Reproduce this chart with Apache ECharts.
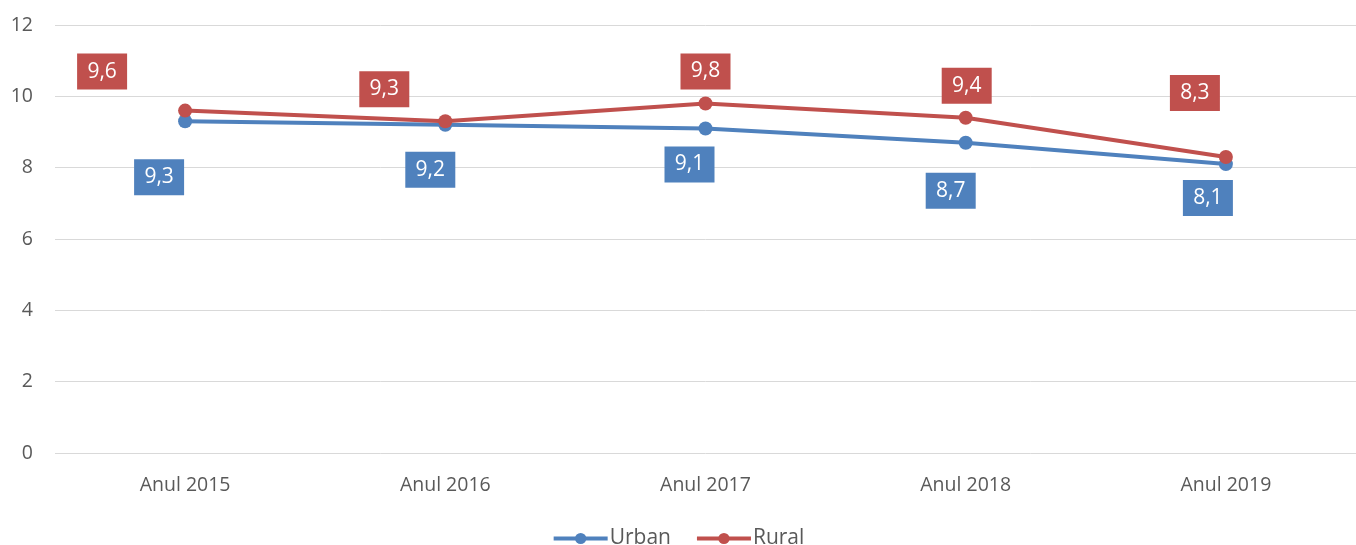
<!DOCTYPE html>
<html>
<head>
<meta charset="utf-8">
<script src="https://cdn.jsdelivr.net/npm/echarts@6/dist/echarts.min.js"></script>
<style>
html,body{margin:0;padding:0;background:#fff;}
#chart{width:1356px;height:545px;}
</style>
</head>
<body>
<div id="chart"></div>
<script>
const categories = ['Anul 2015', 'Anul 2016', 'Anul 2017', 'Anul 2018', 'Anul 2019'];
const urban = [9.3, 9.2, 9.1, 8.7, 8.1];
const rural = [9.6, 9.3, 9.8, 9.4, 8.3];
const yTicks = [0, 2, 4, 6, 8, 10, 12];
// label offsets (pixels from the point), kept separate from data
const urbanLabelOffsets = [[-26, 56], [-15, 45], [-16, 36], [-15, 48], [-18, 34]];
const ruralLabelOffsets = [[-83, -39], [-61, -32], [0, -32], [1, -32], [-31, -64]];

const FONT = 'Open Sans';
const BLUE = '#4F81BD';
const RED = '#C0504D';
const TXT = '#595959';

function withLabels(values, offsets, color) {
  return values.map((v, i) => ({
    value: v,
    label: {
      show: true,
      position: 'inside',
      offset: offsets[i],
      formatter: p => String(p.value).replace('.', ','),
      color: '#fff',
      backgroundColor: color,
      fontFamily: FONT,
      fontSize: 21,
      width: 34,
      height: 22,
      lineHeight: 22,
      align: 'center',
      verticalAlign: 'middle',
      padding: [7, 8]
    }
  }));
}

const chart = echarts.init(document.getElementById('chart'), null, {renderer: 'canvas'});
chart.setOption({
  animation: false,
  backgroundColor: '#fff',
  grid: {left: 55, right: 0, top: 25, bottom: 92, containLabel: false},
  legend: {
    top: 523,
    left: 'center',
    itemWidth: 54,
    itemHeight: 14,
    itemGap: 24,
    lineStyle: {width: 4},
    textStyle: {color: TXT, fontFamily: FONT, fontSize: 21, padding: [0, 0, 0, -3]},
    data: ['Urban', 'Rural']
  },
  xAxis: {
    type: 'category',
    data: categories,
    boundaryGap: true,
    axisLine: {show: false},
    axisTick: {show: false},
    axisLabel: {color: TXT, fontFamily: FONT, fontSize: 19.5, margin: 22}
  },
  yAxis: {
    type: 'value',
    min: yTicks[0],
    max: yTicks[yTicks.length - 1],
    interval: 2,
    axisLine: {show: false},
    axisTick: {show: false},
    axisLabel: {color: TXT, fontFamily: FONT, fontSize: 19.5, margin: 22},
    splitLine: {lineStyle: {color: '#d9d9d9', width: 1}}
  },
  series: [
    {
      name: 'Urban',
      type: 'line',
      data: withLabels(urban, urbanLabelOffsets, BLUE),
      color: BLUE,
      symbol: 'circle',
      symbolSize: 14,
      lineStyle: {width: 4, color: BLUE},
      itemStyle: {color: BLUE},
      z: 2
    },
    {
      name: 'Rural',
      type: 'line',
      data: withLabels(rural, ruralLabelOffsets, RED),
      color: RED,
      symbol: 'circle',
      symbolSize: 14,
      lineStyle: {width: 4, color: RED},
      itemStyle: {color: RED},
      z: 3
    }
  ]
});
</script>
</body>
</html>
